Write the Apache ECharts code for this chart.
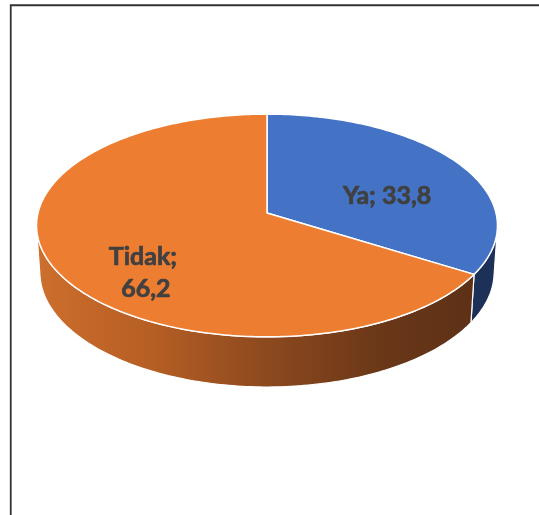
<!DOCTYPE html>
<html>
<head>
<meta charset="utf-8">
<style>
  html, body { margin: 0; padding: 0; background: #ffffff; }
  #chart { width: 539px; height: 515px; }
</style>
<script src="https://cdn.jsdelivr.net/npm/echarts@6/dist/echarts.min.js"></script>
</head>
<body>
<div id="chart"></div>
<script>
// Answer categories and their shares (percent)
const categories = ['Ya', 'Tidak'];
const values = [33.8, 66.2];

// Colours of the top faces and of the side walls
const topColors = ['#4472C4', '#ED7D31'];
const sideColors = [
  '#1D3058',
  [['0', '#CD6F2D'], ['0.25', '#B65E24'], ['0.5', '#8C491E'], ['0.75', '#6A3718'], ['1', '#5A2F15']]
];
// Small nudges for the data labels (px)
const labelNudgeX = [4, 3];
const labelNudgeY = [14, 27];

// Perspective view of a flat cylinder (units: pie radius = 1)
const CX = 267, CY = 213;          // screen position of the pie centre
const PX_PER_R = 229;              // pixels per radius at the centre's depth
const DIST = 7.82;                 // camera distance
const TILT = 28.7 * Math.PI / 180; // camera elevation
const THICK = 0.234;               // pie thickness
const FOCAL = PX_PER_R * DIST;
const sinT = Math.sin(TILT), cosT = Math.cos(TILT);

function project(theta, r, y) {
  const x = r * Math.sin(theta);
  const z = -r * Math.cos(theta);
  const yc = y * cosT - z * sinT;
  const d = DIST - (y * sinT + z * cosT);
  return [CX + FOCAL * x / d, CY - FOCAL * yc / d];
}

// Side walls face the camera only in this angular window
const VIS_A = Math.acos(-1 / (DIST * cosT));
const VIS_B = 2 * Math.PI - VIS_A;

function arc(a0, a1, r, y) {
  const n = Math.max(2, Math.ceil(Math.abs(a1 - a0) / (Math.PI / 180)));
  const pts = [];
  for (let i = 0; i <= n; i++) pts.push(project(a0 + (a1 - a0) * i / n, r, y));
  return pts;
}

const total = values.reduce((s, v) => s + v, 0);
function sliceAngles(idx) {
  let acc = 0;
  for (let i = 0; i < idx; i++) acc += values[i];
  return [acc / total * 2 * Math.PI, (acc + values[idx]) / total * 2 * Math.PI];
}

function fmt(v) { return v.toFixed(1).replace('.', ','); }

function sideFill(idx) {
  const c = sideColors[idx];
  if (typeof c === 'string') return c;
  const left = project(-Math.PI / 2, 1, 0)[0] - 2;
  const right = project(Math.PI / 2, 1, 0)[0] + 2;
  return new echarts.graphic.LinearGradient(left, 0, right, 0,
    c.map(s => ({ offset: +s[0], color: s[1] })), true);
}

function renderItem(params, api) {
  const idx = params.dataIndex;
  const [a0, a1] = sliceAngles(idx);
  const children = [];

  // visible part of the outer wall
  const s0 = Math.max(a0, VIS_A), s1 = Math.min(a1, VIS_B);
  if (s1 > s0) {
    const topEdge = arc(s0, s1, 1, 0);
    const botEdge = arc(s1, s0, 1, -THICK);
    children.push({
      type: 'polygon',
      z2: 1,
      shape: { points: topEdge.concat(botEdge) },
      style: { fill: sideFill(idx), stroke: '#ffffff', lineWidth: 1.2 }
    });
  }

  // top face
  const face = [project(0, 0, 0)].concat(arc(a0, a1, 1, 0));
  children.push({
    type: 'polygon',
    z2: 10,
    shape: { points: face },
    style: { fill: topColors[idx], stroke: '#ffffff', lineWidth: 1.5, lineJoin: 'round' }
  });

  // data label
  const mid = (a0 + a1) / 2;
  const p = project(mid, 0.6, 0);
  children.push({
    type: 'text',
    z2: 20,
    x: p[0] + labelNudgeX[idx],
    y: p[1] + labelNudgeY[idx],
    style: {
      text: categories[idx] + '; ' + fmt(api.value(0)),
      fill: '#404040',
      stroke: '#404040',
      lineWidth: 0.7,
      font: 'bold 25px Lato',
      align: 'center',
      verticalAlign: 'middle',
      width: 100,
      overflow: 'break',
      lineHeight: 32
    }
  });

  return { type: 'group', children: children };
}

const chart = echarts.init(document.getElementById('chart'), null, { renderer: 'canvas' });
chart.setOption({
  animation: false,
  backgroundColor: '#ffffff',
  graphic: [{
    type: 'rect',
    silent: true,
    z: 0,
    shape: { x: 10.75, y: 5.25, width: 560, height: 540 },
    style: { fill: 'none', stroke: '#333333', lineWidth: 1.8 }
  }],
  series: [{
    type: 'custom',
    coordinateSystem: 'none',
    renderItem: renderItem,
    data: values.map((v, i) => ({ name: categories[i], value: [v] }))
  }]
});
</script>
</body>
</html>
